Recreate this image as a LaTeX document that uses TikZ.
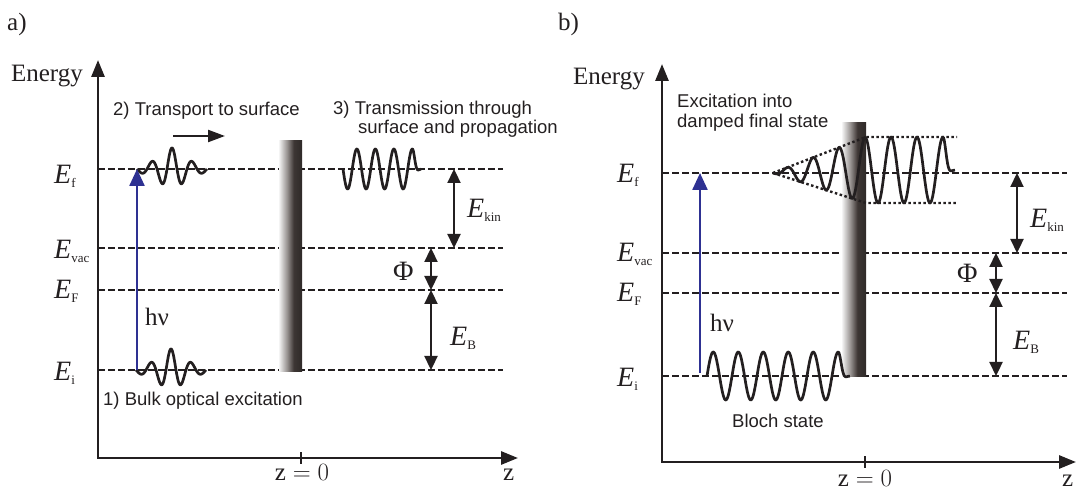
\documentclass[tikz,border=0pt]{standalone}
\usepackage{fontspec}
\setmainfont{Liberation Serif}
\newfontfamily\sansf{Liberation Sans}
\usetikzlibrary{arrows.meta}
\definecolor{ink}{HTML}{231F20}
\definecolor{photonblue}{HTML}{2E3192}
\definecolor{barlight}{HTML}{F4F4F4}
\definecolor{barmid}{HTML}{9A9593}
\definecolor{bardark}{HTML}{3D3634}
\definecolor{bardeep}{HTML}{2F2A28}
\pgfdeclarehorizontalshading{barshade}{100bp}{color(0bp)=(barlight); color(25bp)=(barlight); color(42bp)=(barmid); color(57bp)=(bardark); color(75bp)=(bardeep); color(100bp)=(bardeep)}
\newcommand\lsub[1]{\raisebox{-4pt}{\fontsize{13}{13}\selectfont #1}}
\begin{document}
\begin{tikzpicture}[x=1pt,y=-1pt,
  axisline/.style={line width=2.8pt, draw=ink, {Triangle[length=17pt,width=13pt]}-{Triangle[length=17pt,width=13pt]}},
  level/.style={line width=2.3pt, draw=ink, dash pattern=on 6.5pt off 3.5pt},
  envline/.style={line width=2.4pt, draw=ink, dash pattern=on 2.5pt off 2.5pt},
  wave/.style={line width=2.7pt, draw=ink, line join=round, samples=220},
  dbl/.style={line width=2.3pt, draw=ink, {Triangle[length=14pt,width=13pt]}-{Triangle[length=14pt,width=13pt]}},
  photon/.style={line width=2.4pt, draw=photonblue, -{Triangle[length=17pt,width=15pt]}},
  move/.style={line width=2.3pt, draw=ink, -{Triangle[length=17pt,width=12pt]}},
  tick/.style={line width=2.3pt, draw=ink},
  sanslbl/.style={inner sep=0pt, anchor=base west, text=ink, font=\fontsize{18.5}{22}\selectfont\sansf},
  elbl/.style={inner sep=0pt, anchor=base west, text=ink, font=\fontsize{28}{30}\selectfont},
  serlbl/.style={inner sep=0pt, text=ink, font=\fontsize{25}{28}\selectfont},
  declare function={
    envb(\x)=33*min(1,(\x-773)/93)*exp(-((max(0,\x-943)/5)^2));
    cenb(\x)=173-3*min(1,(\x-773)/93);
    pk(\x,\c)=21/(1+((\x-\c)/15)^2);
  }]
\useasboundingbox (0,0) rectangle (1082,494);

% ================= panel a =================
\node[serlbl, anchor=base west] (alab) at (7,31) {a)};
\coordinate (aO) at (98,458);
\coordinate (aTop) at (98,60);
\coordinate (aEnd) at (518,458);
\draw[axisline] (aTop) -- (aO) -- (aEnd);
\coordinate (aT1) at (301,452); \coordinate (aT2) at (301,464);
\draw[tick] (aT1) -- (aT2);
\node[serlbl, anchor=base east] (aEnergy) at (83,82) {Energy};
\node[serlbl, anchor=base] (az0) at (302,480) {$\mathrm{z}=0$};
\node[serlbl, anchor=base west] (az) at (503,480) {$\mathrm{z}$};

% levels
\coordinate (afL) at (98,169);  \coordinate (afR) at (503,169);
\coordinate (avL) at (98,248);  \coordinate (avR) at (503,248);
\coordinate (aFL) at (98,290);  \coordinate (aFR) at (503,290);
\coordinate (aiL) at (98,370);  \coordinate (aiR) at (503,370);
\draw[level] (afL) -- (afR);
\draw[level] (avL) -- (avR);
\draw[level] (aFL) -- (aFR);
\draw[level] (aiL) -- (aiR);

% surface
\shade[shading=barshade] (279,141) rectangle (302,372);

% waves
\draw[wave] plot[domain=137:207] (\x,{169-pk(\x,172)*cos(18*(\x-172))});
\draw[wave] plot[domain=136:206] (\x,{370-pk(\x,171)*cos(18*(\x-171))});
\draw[wave] plot[domain=343:421] (\x,{169+20*sin(19.4595*(\x-343))*exp(-((max(0,\x-412.4)/4)^2))});

% photon and transport
\coordinate (aph1) at (137,370); \coordinate (aph2) at (137,169);
\draw[photon] (aph1) -- (aph2);
\coordinate (atr1) at (173,136); \coordinate (atr2) at (225,136);
\draw[move] (atr1) -- (atr2);

% energy arrows
\coordinate (ak1) at (454,169); \coordinate (ak2) at (454,248);
\coordinate (ap1) at (431,248); \coordinate (ap2) at (431,290);
\coordinate (ab1) at (431,290); \coordinate (ab2) at (431,370);
\draw[dbl] (ak1) -- (ak2);
\draw[dbl] (ap1) -- (ap2);
\draw[dbl] (ab1) -- (ab2);

% labels
\node[elbl] (aEf) at (54,184) {\textit{E}\lsub{f}};
\node[elbl] (aEv) at (54,259) {\textit{E}\lsub{vac}};
\node[elbl] (aEF) at (54,299) {\textit{E}\lsub{F}};
\node[elbl] (aEi) at (54,381) {\textit{E}\lsub{i}};
\node[elbl] (aEk) at (467,218) {\textit{E}\lsub{kin}};
\node[elbl] (aPhi) at (393,281) {Φ};
\node[elbl] (aEB) at (450,345) {\textit{E}\lsub{B}};
\node[serlbl, anchor=base west] (ahv) at (145,326) {hν};
\node[sanslbl] (at2) at (113,116) {2) Transport to surface};
\node[sanslbl] (at3a) at (333,115) {3) Transmission through};
\node[sanslbl] (at3b) at (358,134) {surface and propagation};
\node[sanslbl] (at1) at (103,405) {1) Bulk optical excitation};

% ================= panel b =================
\node[serlbl, anchor=base west] (blab) at (558,31) {b)};
\coordinate (bO) at (662,462);
\coordinate (bTop) at (662,64);
\coordinate (bEnd) at (1076,462);
\draw[axisline] (bTop) -- (bO) -- (bEnd);
\coordinate (bT1) at (865,456); \coordinate (bT2) at (865,468);
\draw[tick] (bT1) -- (bT2);
\node[serlbl, anchor=base east] (bEnergy) at (645,85) {Energy};
\node[serlbl, anchor=base] (bz0) at (865,486) {$\mathrm{z}=0$};
\node[serlbl, anchor=base west] (bz) at (1062,486) {$\mathrm{z}$};

\coordinate (bfL) at (662,173);  \coordinate (bfR) at (1067,173);
\coordinate (bvL) at (662,253);  \coordinate (bvR) at (1067,253);
\coordinate (bFL) at (662,293);  \coordinate (bFR) at (1067,293);
\coordinate (biL) at (662,376);  \coordinate (biR) at (1067,376);
\draw[level] (bfL) -- (bfR);
\draw[level] (bvL) -- (bvR);
\draw[level] (bFL) -- (bFR);
\draw[level] (biL) -- (biR);

\shade[shading=barshade] (842,123) rectangle (866,376);

% envelope of damped state
\coordinate (bc) at (773,173);
\coordinate (bu1) at (866,137); \coordinate (bu2) at (957,137);
\coordinate (bl1) at (866,203); \coordinate (bl2) at (957,203);
\draw[envline] (bc) -- (bu1) -- (bu2);
\draw[envline] (bc) -- (bl1) -- (bl2);

\draw[wave] plot[domain=773:955] (\x,{cenb(\x)-envb(\x)*cos(13.84615*(\x-865))});
\draw[wave] plot[domain=707:850] (\x,{376-24*sin(14.4*(\x-707))*exp(-((max(0,\x-838.25)/5)^2))});

\coordinate (bph1) at (700,373); \coordinate (bph2) at (700,173);
\draw[photon] (bph1) -- (bph2);

\coordinate (bk1) at (1017,173); \coordinate (bk2) at (1017,253);
\coordinate (bp1) at (996,253); \coordinate (bp2) at (996,293);
\coordinate (bb1) at (996,293); \coordinate (bb2) at (996,376);
\draw[dbl] (bk1) -- (bk2);
\draw[dbl] (bp1) -- (bp2);
\draw[dbl] (bb1) -- (bb2);

\node[elbl] (bEf) at (617,183) {\textit{E}\lsub{f}};
\node[elbl] (bEv) at (617,262) {\textit{E}\lsub{vac}};
\node[elbl] (bEF) at (617,302) {\textit{E}\lsub{F}};
\node[elbl] (bEi) at (617,386) {\textit{E}\lsub{i}};
\node[elbl] (bEk) at (1030,228) {\textit{E}\lsub{kin}};
\node[elbl] (bPhi) at (957,283) {Φ};
\node[elbl] (bEB) at (1013,350) {\textit{E}\lsub{B}};
\node[serlbl, anchor=base west] (bhv) at (710,332) {hν};
\node[sanslbl] (bx1) at (677,108) {Excitation into};
\node[sanslbl] (bx2) at (677,128) {damped final state};
\node[sanslbl] (bbl) at (732,427) {Bloch state};
\end{tikzpicture}
\end{document}
